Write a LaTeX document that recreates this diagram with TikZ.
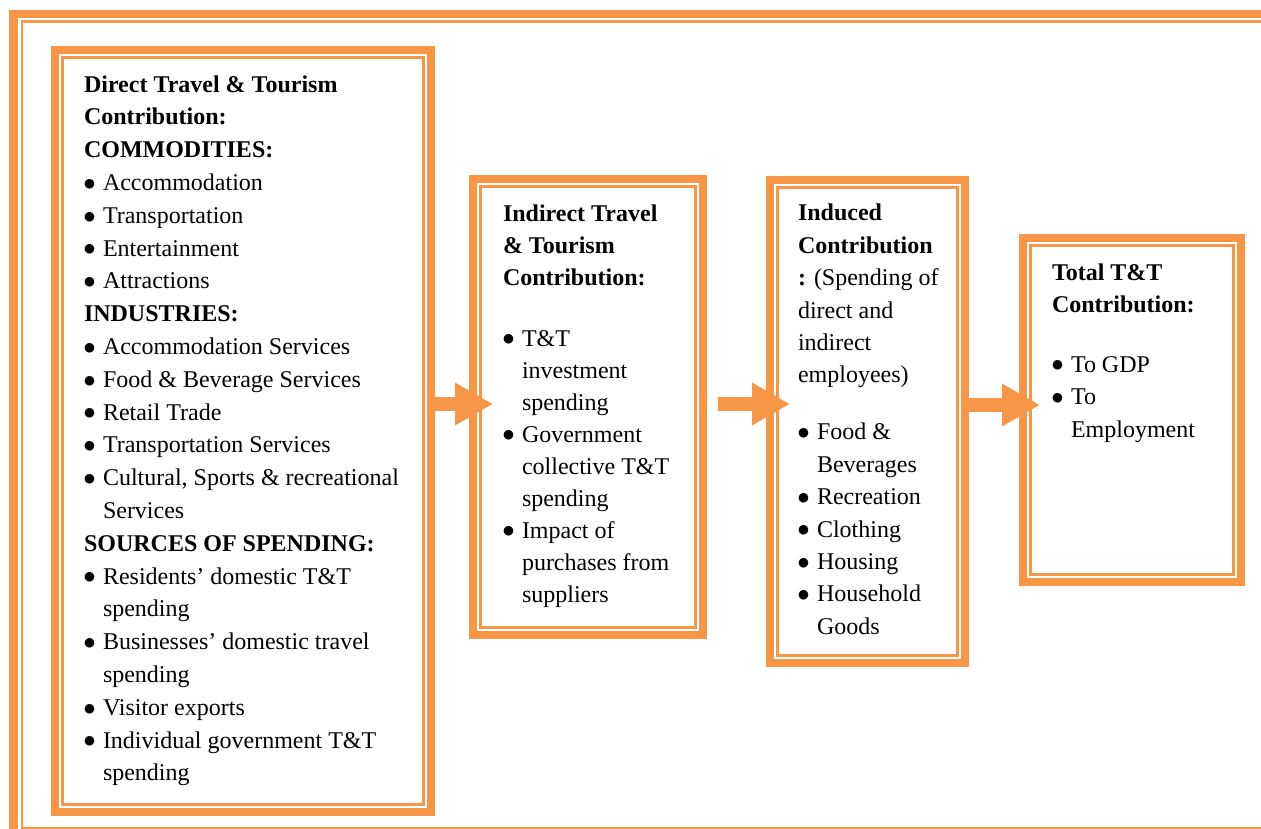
\documentclass[tikz,border=0pt]{standalone}
\usepackage{fontspec}
\setmainfont{Liberation Serif}
\newfontfamily\symfont{DejaVu Sans}
\usetikzlibrary{arrows.meta,calc}
\definecolor{accent}{HTML}{F79646}
% bullet and hanging indent for list lines
\newcommand\bl{\makebox[19pt][l]{\raisebox{3.2pt}{\fontsize{12.5}{0}\symfont ●}}}
\newcommand\ind{\hspace*{19pt}}
\begin{document}
\begin{tikzpicture}[x=1pt,y=-1pt,
  frame/.style={draw=accent,line width=8.5pt,inner sep=0pt,outer sep=0pt},
  rule/.style={draw=accent,line width=2.2pt},
  body/.style={anchor=north west,inner sep=0pt,outer sep=0pt,align=left},
  bigarrow/.style={draw=accent,line width=14pt,-{Triangle[width=40pt,length=38pt]}},
]
\useasboundingbox (0,0) rectangle (1261,829);
\clip (0,0) rectangle (1261,829);

% page frame: thick outer line, thin inner line
\draw[accent,line width=8.5pt] (13.6,14) rectangle (1300,836);
\draw[rule] (22,21.6) rectangle (1290,827.6);

% the four boxes
\node[frame,minimum width=376pt,minimum height=762pt] (b1) at (243,431) {};
\node[frame,minimum width=230pt,minimum height=456pt] (b2) at (588,407) {};
\node[frame,minimum width=195pt,minimum height=483pt] (b3) at (867.5,421.5) {};
\node[frame,minimum width=218pt,minimum height=344pt] (b4) at (1132,410) {};
\foreach \b in {b1,b2,b3,b4}
  \draw[rule] ($(\b.north west)+(7.5,7.5)$) rectangle ($(\b.south east)+(-7.5,-7.5)$);

% box texts
\node[body,font=\fontsize{24}{32.8}\selectfont] (t1) at (84,69.04) {%
\strut\textbf{Direct Travel \& Tourism}\\
\textbf{Contribution:}\\
\textbf{COMMODITIES:}\\
\bl Accommodation\\
\bl Transportation\\
\bl Entertainment\\
\bl Attractions\\
\textbf{INDUSTRIES:}\\
\bl Accommodation Services\\
\bl Food \& Beverage Services\\
\bl Retail Trade\\
\bl Transportation Services\\
\bl Cultural, Sports \& recreational\\
\ind Services\\
\textbf{SOURCES OF SPENDING:}\\
\bl Residents’ domestic T\&T\\
\ind spending\\
\bl Businesses’ domestic travel\\
\ind spending\\
\bl Visitor exports\\
\bl Individual government T\&T\\
\ind spending};

\node[body,font=\fontsize{24}{32}\selectfont] (t2) at (503,198.6) {%
\strut\textbf{Indirect Travel}\\
\textbf{\& Tourism}\\
\textbf{Contribution:}\\[29pt]
\bl T\&T\\
\ind investment\\
\ind spending\\
\bl Government\\
\ind collective T\&T\\
\ind spending\\
\bl Impact of\\
\ind purchases from\\
\ind suppliers};

\node[body,font=\fontsize{24}{32.4}\selectfont] (t3) at (798,198.3) {%
\strut\textbf{Induced}\\
\textbf{Contribution}\\
\textbf{:} (Spending of\\
direct and\\
indirect\\
employees)\\[24.6pt]
\bl Food \&\\
\ind Beverages\\
\bl Recreation\\
\bl Clothing\\
\bl Housing\\
\bl Household\\
\ind Goods};

\node[body,font=\fontsize{24}{32.5}\selectfont] (t4) at (1052,257.25) {%
\strut\textbf{Total T\&T}\\
\textbf{Contribution:}\\[27pt]
\bl To GDP\\
\bl To\\
\ind Employment};

% block arrows between the boxes
\draw[bigarrow] (b1.east |- 0,404) -- ($(b2.west |- 0,404)+(20,0)$);
\draw[bigarrow] ($(b2.east |- 0,404)+(15,0)$) -- ($(b3.west |- 0,404)+(20,0)$);
\draw[bigarrow] (b3.east |- 0,405) -- ($(b4.west |- 0,405)+(17,0)$);
\end{tikzpicture}
\end{document}
